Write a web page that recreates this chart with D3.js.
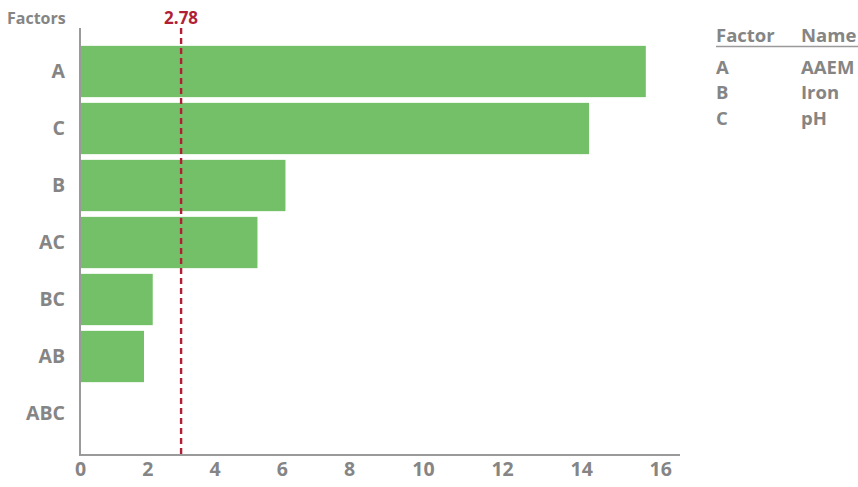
<!DOCTYPE html>
<html>
<head>
<meta charset="utf-8">
<script src="https://cdn.jsdelivr.net/npm/d3@7"></script>
<style>
  body { margin: 0; background: #fff; }
  text { font-family: "Open Sans", "Noto Sans", sans-serif; }
</style>
</head>
<body>
<svg id="chart" width="858" height="487"></svg>
<script>
// data
const factors = ["A", "C", "B", "AC", "BC", "AB", "ABC"];
const effects = [15.56, 14.0, 5.65, 4.88, 2.0, 1.76, 0];
const criticalValue = 2.78;
const xTicks = [0, 2, 4, 6, 8, 10, 12, 14, 16];
const legendFactors = ["A", "B", "C"];
const legendNames = ["AAEM", "Iron", "pH"];

const grey = "#858585";
const red = "#b11f37";
const green = "#73c068";

const svg = d3.select("#chart");
const plotLeft = 80, plotRight = 680, plotTop = 28, plotBottom = 455;

// bars + line scale
const x = d3.scaleLinear().domain([0, 16.5]).range([plotLeft, plotRight]);
// tick labels in the picture are not evenly spaced
const xAxisScale = d3.scaleLinear().domain([0, 8, 10, 16.5]).range([plotLeft, 349, 423, plotRight]);
const y = d3.scaleBand().domain(factors).range([43, 442]).paddingInner(0.1).paddingOuter(0.05);

const data = factors.map((f, i) => ({ factor: f, value: effects[i] }));

svg.append("g").selectAll("rect")
  .data(data.filter(d => d.value > 0))
  .join("rect")
  .attr("x", x(0))
  .attr("y", d => y(d.factor))
  .attr("width", d => x(d.value) - x(0))
  .attr("height", y.bandwidth())
  .attr("fill", green);

// y axis
const yAxis = svg.append("g")
  .attr("transform", `translate(${plotLeft},0)`)
  .call(d3.axisLeft(y).tickSize(0).tickPadding(15));
yAxis.select(".domain").remove();
yAxis.selectAll("text")
  .attr("fill", grey).attr("font-size", 19.5).attr("font-weight", 700)
  .style("font-family", "'Open Sans', sans-serif");

svg.append("line")
  .attr("x1", plotLeft).attr("x2", plotLeft).attr("y1", plotTop).attr("y2", plotBottom + 1)
  .attr("stroke", "#9a9a9a").attr("stroke-width", 2);

// x axis
const xAxis = svg.append("g")
  .attr("transform", `translate(0,${plotBottom})`)
  .call(d3.axisBottom(xAxisScale).tickValues(xTicks).tickSize(0).tickPadding(7).tickFormat(d3.format("d")));
xAxis.select(".domain").remove();
xAxis.selectAll("text")
  .attr("fill", grey).attr("font-size", 19.5).attr("font-weight", 700)
  .style("font-family", "'Open Sans', sans-serif");

svg.append("line")
  .attr("x1", plotLeft - 1).attr("x2", plotRight).attr("y1", plotBottom).attr("y2", plotBottom)
  .attr("stroke", "#9a9a9a").attr("stroke-width", 2);

// critical value line
svg.append("line")
  .attr("x1", x(criticalValue)).attr("x2", x(criticalValue))
  .attr("y1", plotTop).attr("y2", plotBottom)
  .attr("stroke", red).attr("stroke-width", 2.4)
  .attr("stroke-dasharray", "6,4");

svg.append("text")
  .attr("x", x(criticalValue)).attr("y", 24)
  .attr("text-anchor", "middle")
  .attr("fill", red).attr("font-size", 17).attr("font-weight", 700)
  .text(criticalValue.toFixed(2));

svg.append("text")
  .attr("x", 7).attr("y", 24)
  .attr("fill", grey).attr("font-size", 16).attr("font-weight", 700)
  .text("Factors");

// legend table
const legend = svg.append("g").attr("transform", "translate(716,0)");
legend.append("text").attr("x", 0).attr("y", 42)
  .attr("fill", grey).attr("font-size", 18.5).attr("font-weight", 700).text("Factor");
legend.append("text").attr("x", 85).attr("y", 42)
  .attr("fill", grey).attr("font-size", 18.5).attr("font-weight", 700).text("Name");
legend.append("line")
  .attr("x1", 0).attr("x2", 142).attr("y1", 46.5).attr("y2", 46.5)
  .attr("stroke", "#9a9a9a").attr("stroke-width", 1.5);

legend.selectAll(".lf")
  .data(legendFactors)
  .join("text")
  .attr("class", "lf")
  .attr("x", 0).attr("y", (d, i) => 73.5 + i * 25.5)
  .attr("fill", grey).attr("font-size", 18.5).attr("font-weight", 700)
  .text(d => d);

legend.selectAll(".ln")
  .data(legendNames)
  .join("text")
  .attr("class", "ln")
  .attr("x", 85).attr("y", (d, i) => 73.5 + i * 25.5)
  .attr("fill", grey).attr("font-size", 18.5).attr("font-weight", 700)
  .text(d => d);
</script>
</body>
</html>
